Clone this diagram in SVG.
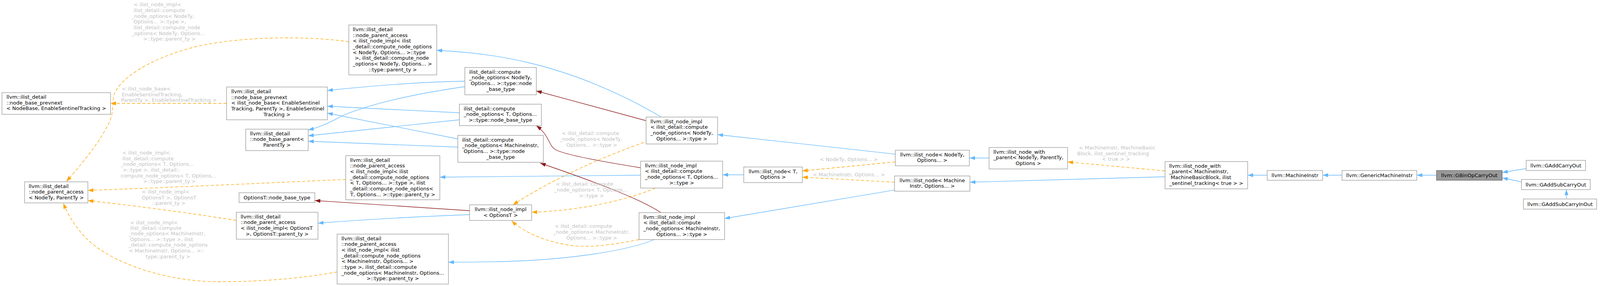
<svg xmlns="http://www.w3.org/2000/svg" width="4313" height="733" viewBox="0 0 4313 733">
<style>
.n rect{fill:#ffffff;stroke:#999999;stroke-width:1.33}
.n.hl rect{fill:#999999;stroke:#666666}
text{font-family:"DejaVu Sans","Liberation Sans",sans-serif;font-size:13px}
.n text{fill:#000000}
.lb text{fill:#bfbfbf}
.m{text-anchor:middle}
.e path{fill:none;stroke-width:1.33}
.e .b{stroke:#63b8ff;marker-end:url(#ab)}
.e .o{stroke:#ffa500;stroke-dasharray:8,5;marker-end:url(#ao)}
.e .r{stroke:#8b1a1a;marker-end:url(#ar)}
</style>
<defs>
<marker id="ab" markerUnits="userSpaceOnUse" markerWidth="14" markerHeight="10" viewBox="0 0 14 10" refX="14" refY="5" orient="auto"><path d="M0,0 L14,5 L0,10 z" fill="#63b8ff"/></marker>
<marker id="ao" markerUnits="userSpaceOnUse" markerWidth="14" markerHeight="10" viewBox="0 0 14 10" refX="14" refY="5" orient="auto"><path d="M0,0 L14,5 L0,10 z" fill="#ffa500"/></marker>
<marker id="ar" markerUnits="userSpaceOnUse" markerWidth="14" markerHeight="10" viewBox="0 0 14 10" refX="14" refY="5" orient="auto"><path d="M0,0 L14,5 L0,10 z" fill="#8b1a1a"/></marker>
</defs>
<rect x="0" y="0" width="4313" height="733" fill="#ffffff"/>

<g id="edges" class="e">
<path class="o" d="M580,265 L283,265"/>
<path class="o" d="M893,107 C790,92 620,92 500,120 C400,145 320,190 295,235 C285,255 293,282 282,308 C260,360 205,425 170,465"/>
<path class="o" d="M885,460 C700,468 450,480 225,488"/>
<path class="o" d="M605,565 C480,545 350,528 225,514"/>
<path class="o" d="M863,697 C780,712 680,722 560,722 C420,722 285,672 225,615 C200,590 178,560 162,521"/>
<path class="b" d="M1190,208 C1080,210 950,220 838,232"/>
<path class="b" d="M1190,222 C1080,238 960,262 880,295 C850,310 825,325 789,333"/>
<path class="b" d="M1176,289 C1060,284 950,278 838,272"/>
<path class="b" d="M1176,307 L789,348"/>
<path class="b" d="M1172,356 L838,290"/>
<path class="b" d="M1172,377 L789,362"/>
<path class="b" d="M1693,300 C1600,245 1480,190 1350,160 C1280,143 1200,133 1118,129"/>
<path class="r" d="M1653,309 L1373,233"/>
<path class="o" d="M1648,365 C1550,400 1420,455 1313,525"/>
<path class="r" d="M1640,430 C1540,414 1448,397 1423,384 C1403,373 1409,349 1373,322"/>
<path class="b" d="M1640,449 L1126,454"/>
<path class="o" d="M1678,482 C1600,515 1480,540 1361,544"/>
<path class="r" d="M1692,545 C1640,510 1520,465 1383,418"/>
<path class="b" d="M1675,614 C1600,645 1450,665 1300,670 C1230,672 1190,672 1148,672"/>
<path class="o" d="M1636,614 C1580,625 1520,635 1470,630 C1400,622 1340,595 1310,566"/>
<path class="r" d="M1202,540 C1050,530 930,522 806,514"/>
<path class="b" d="M1202,550 C1050,556 930,563 814,572"/>
<path class="b" d="M2292,395 L1837,345"/>
<path class="b" d="M1904,448 L1850,448"/>
<path class="b" d="M2290,487 L1855,560"/>
<path class="o" d="M2292,415 L2054,438"/>
<path class="o" d="M2290,467 L2054,454"/>
<path class="b" d="M2532,405 L2482,405"/>
<path class="o" d="M2982,438 L2733,415"/>
<path class="b" d="M2982,453 L2483,467"/>
<path class="b" d="M3244,449 L3194,449"/>
<path class="b" d="M3435,449 L3386,449"/>
<path class="b" d="M3677,449 L3627,449"/>
<path class="b" d="M3907,432 L3846,442"/>
<path class="b" d="M3895,466 L3846,456"/>
<path class="b" d="M4010,510 L4010,486"/>
</g>

<g id="labels" class="lb">
<text x="342" y="16">&lt; ilist_node_impl&lt;</text>
<text x="342" y="31">ilist_detail::compute</text>
<text x="337" y="45.5">_node_options&lt; NodeTy,</text>
<text x="342" y="60">Options... &gt;::type &gt;,</text>
<text x="342" y="75">ilist_detail::compute_node</text>
<text x="337" y="89.5">_options&lt; NodeTy, Options...</text>
<text class="m" x="433.7" y="104">&gt;::type::parent_ty &gt;</text>

<text x="312" y="232">&lt; ilist_node_base&lt;</text>
<text x="312" y="247">EnableSentinelTracking,</text>
<text class="m" x="432.5" y="261">ParentTy &gt;, EnableSentinelTracking &gt;</text>

<text x="313" y="396">&lt; ilist_node_impl&lt;</text>
<text x="313" y="411">ilist_detail::compute</text>
<text x="309" y="425">_node_options&lt; T, Options...</text>
<text x="314" y="440">&gt;::type &gt;, ilist_detail::</text>
<text x="309" y="455">compute_node_options&lt; T, Options...</text>
<text class="m" x="434" y="469">&gt;::type::parent_ty &gt;</text>

<text x="363" y="496">&lt; ilist_node_impl&lt;</text>
<text x="363" y="511">OptionsT &gt;, OptionsT</text>
<text class="m" x="432" y="525">::parent_ty &gt;</text>

<text x="333" y="575">&lt; ilist_node_impl&lt;</text>
<text x="333" y="589">ilist_detail::compute</text>
<text x="329" y="603">_node_options&lt; MachineInstr,</text>
<text x="333" y="618">Options... &gt;::type &gt;, ilist</text>
<text x="329" y="632">_detail::compute_node_options</text>
<text x="330" y="647">&lt; MachineInstr, Options... &gt;::</text>
<text class="m" x="430" y="662">type::parent_ty &gt;</text>

<text x="1438" y="346">&lt; ilist_detail::compute</text>
<text x="1433" y="361">_node_options&lt; NodeTy,</text>
<text class="m" x="1515" y="376">Options... &gt;::type &gt;</text>

<text x="1423" y="476">&lt; ilist_detail::compute</text>
<text x="1419" y="491">_node_options&lt; T, Options...</text>
<text class="m" x="1514" y="506">&gt;::type &gt;</text>

<text x="1420" y="584">&lt; ilist_detail::compute</text>
<text x="1416" y="599">_node_options&lt; MachineInstr,</text>
<text class="m" x="1515" y="614">Options... &gt;::type &gt;</text>

<text class="m" x="2173" y="413">&lt; NodeTy, Options... &gt;</text>
<text class="m" x="2173" y="452">&lt; MachineInstr, Options... &gt;</text>

<text x="2762" y="383">&lt; MachineInstr, MachineBasic</text>
<text x="2757.5" y="398">Block, ilist_sentinel_tracking</text>
<text class="m" x="2857" y="412">&lt; true &gt; &gt;</text>
</g>

<g id="n1" class="n"><rect x="5" y="237.5" width="278" height="55.5"/>
<text x="16.5" y="253">llvm::ilist_detail</text>
<text x="16.5" y="267.7">::node_base_prevnext</text>
<text class="m" x="144" y="282.3">&lt; NodeBase, EnableSentinelTracking &gt;</text></g>

<g id="n2" class="n"><rect x="63" y="466" width="162" height="54"/>
<text x="73.5" y="481.5">llvm::ilist_detail</text>
<text x="73.5" y="496">::node_parent_access</text>
<text class="m" x="144" y="511">&lt; NodeTy, ParentTy &gt;</text></g>

<g id="n3" class="n"><rect x="580" y="223" width="258" height="84"/>
<text x="592" y="239">llvm::ilist_detail</text>
<text x="592" y="253.5">::node_base_prevnext</text>
<text x="592" y="268">&lt; ilist_node_base&lt; EnableSentinel</text>
<text x="592" y="283">Tracking, ParentTy &gt;, EnableSentinel</text>
<text class="m" x="709" y="297.5">Tracking &gt;</text></g>

<g id="n4" class="n"><rect x="893" y="64" width="225" height="128"/>
<text x="903" y="80">llvm::ilist_detail</text>
<text x="903" y="94.7">::node_parent_access</text>
<text x="903" y="109.3">&lt; ilist_node_impl&lt; ilist</text>
<text x="903" y="124">_detail::compute_node_options</text>
<text x="903" y="138.7">&lt; NodeTy, Options... &gt;::type</text>
<text x="908" y="153.3">&gt;, ilist_detail::compute_node</text>
<text x="903" y="168">_options&lt; NodeTy, Options... &gt;</text>
<text class="m" x="1005.5" y="182.7">::type::parent_ty &gt;</text></g>

<g id="n5" class="n"><rect x="629" y="331" width="160" height="55"/>
<text x="640" y="346.5">llvm::ilist_detail</text>
<text x="640" y="361">::node_base_parent&lt;</text>
<text class="m" x="709" y="376">ParentTy &gt;</text></g>

<g id="n6" class="n"><rect x="612" y="494" width="194" height="25"/>
<text class="m" x="709" y="511">OptionsT::node_base_type</text></g>

<g id="n12" class="n"><rect x="605" y="544" width="209" height="69"/>
<text x="616" y="559.5">llvm::ilist_detail</text>
<text x="616" y="574">::node_parent_access</text>
<text x="616" y="589">&lt; ilist_node_impl&lt; OptionsT</text>
<text class="m" x="709.5" y="603.5">&gt;, OptionsT::parent_ty &gt;</text></g>

<g id="n10" class="n"><rect x="885" y="399" width="241" height="113"/>
<text x="896" y="414.5">llvm::ilist_detail</text>
<text x="896" y="429">::node_parent_access</text>
<text x="896" y="444">&lt; ilist_node_impl&lt; ilist</text>
<text x="896" y="458.5">_detail::compute_node_options</text>
<text x="896" y="473">&lt; T, Options... &gt;::type &gt;, ilist</text>
<text x="896" y="488">_detail::compute_node_options&lt;</text>
<text class="m" x="1005.5" y="502.5">T, Options... &gt;::type::parent_ty &gt;</text></g>

<g id="n14" class="n"><rect x="863" y="600" width="285" height="128"/>
<text x="874" y="615.5">llvm::ilist_detail</text>
<text x="874" y="630">::node_parent_access</text>
<text x="874" y="645">&lt; ilist_node_impl&lt; ilist</text>
<text x="874" y="659.5">_detail::compute_node_options</text>
<text x="874" y="674">&lt; MachineInstr, Options... &gt;</text>
<text x="874" y="689">::type &gt;, ilist_detail::compute</text>
<text x="874" y="703.5">_node_options&lt; MachineInstr, Options...</text>
<text class="m" x="1005.5" y="718">&gt;::type::parent_ty &gt;</text></g>

<g id="n7" class="n"><rect x="1190" y="173" width="183" height="70"/>
<text x="1201" y="188.5">ilist_detail::compute</text>
<text x="1201" y="203">_node_options&lt; NodeTy,</text>
<text x="1205" y="218">Options... &gt;::type::node</text>
<text class="m" x="1281.5" y="232.5">_base_type</text></g>

<g id="n8" class="n"><rect x="1176" y="267" width="210" height="55"/>
<text x="1187" y="282.5">ilist_detail::compute</text>
<text x="1187" y="297">_node_options&lt; T, Options...</text>
<text class="m" x="1281" y="312">&gt;::type::node_base_type</text></g>

<g id="n9" class="n"><rect x="1172" y="347" width="219" height="69"/>
<text x="1183" y="362.5">ilist_detail::compute</text>
<text x="1183" y="377">_node_options&lt; MachineInstr,</text>
<text x="1187" y="391.5">Options... &gt;::type::node</text>
<text class="m" x="1281.5" y="406.5">_base_type</text></g>

<g id="n13" class="n"><rect x="1202" y="525" width="159" height="40"/>
<text class="m" x="1281.5" y="541">llvm::ilist_node_impl</text>
<text class="m" x="1281.5" y="555.5">&lt; OptionsT &gt;</text></g>

<g id="n11" class="n"><rect x="1654" y="300" width="183" height="69"/>
<text x="1665" y="315.5">llvm::ilist_node_impl</text>
<text x="1665" y="330">&lt; ilist_detail::compute</text>
<text x="1665" y="345">_node_options&lt; NodeTy,</text>
<text class="m" x="1745.5" y="359.5">Options... &gt;::type &gt;</text></g>

<g id="n15" class="n"><rect x="1640" y="413" width="210" height="69"/>
<text x="1651" y="428.5">llvm::ilist_node_impl</text>
<text x="1651" y="443">&lt; ilist_detail::compute</text>
<text x="1651" y="458">_node_options&lt; T, Options...</text>
<text class="m" x="1745" y="472.5">&gt;::type &gt;</text></g>

<g id="n16" class="n"><rect x="1636" y="545" width="219" height="69"/>
<text x="1647" y="560.5">llvm::ilist_node_impl</text>
<text x="1647" y="575">&lt; ilist_detail::compute</text>
<text x="1647" y="590">_node_options&lt; MachineInstr,</text>
<text class="m" x="1745.5" y="604.5">Options... &gt;::type &gt;</text></g>

<g id="n19" class="n"><rect x="1904" y="428" width="150" height="40"/>
<text class="m" x="1979" y="443.5">llvm::ilist_node&lt; T,</text>
<text class="m" x="1979" y="458">Options &gt;</text></g>

<g id="n17" class="n"><rect x="2292" y="385" width="189.5" height="40"/>
<text class="m" x="2386.5" y="400.5">llvm::ilist_node&lt; NodeTy,</text>
<text class="m" x="2386.5" y="415">Options... &gt;</text></g>

<g id="n18" class="n"><rect x="2290" y="451" width="193" height="39"/>
<text class="m" x="2386.5" y="466.5">llvm::ilist_node&lt; Machine</text>
<text class="m" x="2386.5" y="481">Instr, Options... &gt;</text></g>

<g id="n20" class="n"><rect x="2532" y="378" width="201" height="55"/>
<text x="2543" y="393.5">llvm::ilist_node_with</text>
<text x="2543" y="408">_parent&lt; NodeTy, ParentTy,</text>
<text class="m" x="2632.5" y="423">Options &gt;</text></g>

<g id="n21" class="n"><rect x="2982.5" y="414" width="211.5" height="70"/>
<text x="2993" y="429.5">llvm::ilist_node_with</text>
<text x="2993" y="444">_parent&lt; MachineInstr,</text>
<text x="2997" y="459">MachineBasicBlock, ilist</text>
<text class="m" x="3088" y="473.5">_sentinel_tracking&lt; true &gt; &gt;</text></g>

<g id="n22" class="n"><rect x="3244" y="437" width="142" height="25"/>
<text class="m" x="3315" y="454">llvm::MachineInstr</text></g>

<g id="n23" class="n"><rect x="3435.5" y="437" width="191.5" height="25"/>
<text class="m" x="3531.3" y="454">llvm::GenericMachineInstr</text></g>

<g id="n24" class="n hl"><rect x="3677.5" y="437" width="168" height="25"/>
<text class="m" x="3761.5" y="454">llvm::GBinOpCarryOut</text></g>

<g id="n25" class="n"><rect x="3907" y="411" width="152" height="26"/>
<text class="m" x="3983" y="428.5">llvm::GAddCarryOut</text></g>

<g id="n26" class="n"><rect x="3895" y="460" width="176" height="26"/>
<text class="m" x="3983" y="477.5">llvm::GAddSubCarryOut</text></g>

<g id="n27" class="n"><rect x="3900" y="510" width="187.5" height="26"/>
<text class="m" x="3993.7" y="527.5">llvm::GAddSubCarryInOut</text></g>
</svg>
